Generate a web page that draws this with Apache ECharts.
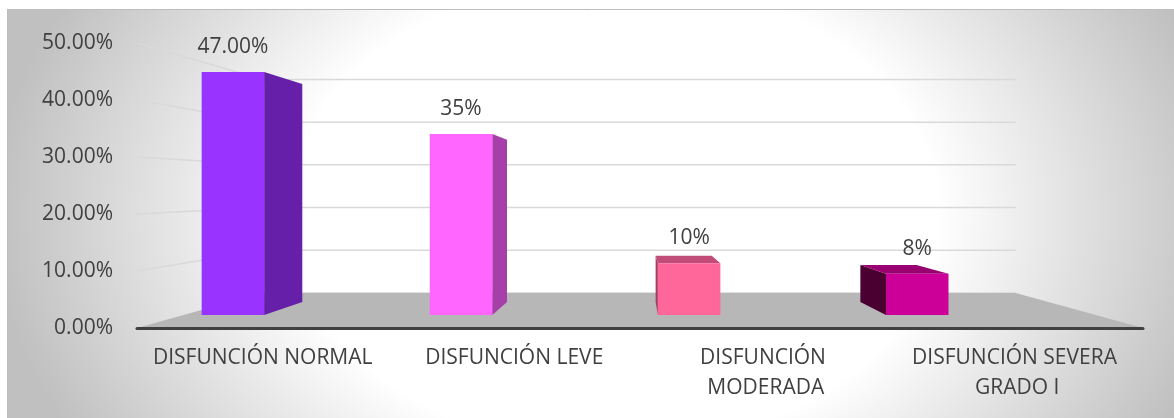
<!DOCTYPE html>
<html>
<head>
<meta charset="utf-8">
<script src="https://cdn.jsdelivr.net/npm/echarts@6/dist/echarts.min.js"></script>
<style>
  html, body { margin: 0; padding: 0; background: #ffffff; }
  #chart { width: 1174px; height: 418px; }
</style>
</head>
<body>
<div id="chart"></div>
<script>
// ---- data ----
const categories = ['DISFUNCIÓN NORMAL', 'DISFUNCIÓN LEVE', 'DISFUNCIÓN MODERADA', 'DISFUNCIÓN SEVERA GRADO I'];
const values = [47, 35, 10, 8];          // percent
const valueDecimals = [2, 0, 0, 0];      // decimals shown in each data label
const yTicks = [0, 10, 20, 30, 40, 50];  // percent

// ---- look ----
const faceColors = [
  { front: '#9933FF', side: '#651FA8', top: '#7A29CC' },
  { front: '#FF66FF', side: '#A640A8', top: '#CC52CC' },
  { front: '#FF6699', side: '#A33D63', top: '#C24C78' },
  { front: '#CC0099', side: '#4B0032', top: '#990070' }
];
const FONT = "'Open Sans', 'Noto Sans', sans-serif";
const TEXT_COLOR = '#404040';

// perspective: vanishing point as a fraction of the plot rectangle,
// depth as the scale factor relative to the front plane
const VP = { fx: 0.496, fy: 0.51 };
const DEPTH = { barFront: 0.907, barBack: 0.814, wall: 0.749 };
const BAR = { shift: -0.283, width: 0.274 }; // in category-band units

function vanishing(cs) {
  return [cs.x + cs.width * VP.fx, cs.y + cs.height * VP.fy];
}
function proj(p, s, vp) {
  return [vp[0] + (p[0] - vp[0]) * s, vp[1] + (p[1] - vp[1]) * s];
}

const chart = echarts.init(document.getElementById('chart'), null, { renderer: 'canvas' });

const option = {
  animation: false,
  backgroundColor: '#ffffff',
  graphic: [
    {
      type: 'rect',
      x: 7, y: 9,
      scaleX: 1.38, scaleY: 1,
      shape: { x: 0, y: 0, width: 1167 / 1.38, height: 409 },
      style: {
        fill: {
          type: 'radial', x: 0.52, y: 0.5, r: 1.1,
          colorStops: [
            { offset: 0, color: '#ffffff' },
            { offset: 0.52, color: '#ffffff' },
            { offset: 1, color: '#c0c0c0' }
          ]
        }
      },
      silent: true, z: -10
    },
    {
      type: 'rect',
      shape: { x: 7.5, y: 9.5, width: 1175, height: 420 },
      style: { fill: null, stroke: '#bdbdbd', lineWidth: 1 },
      silent: true, z: -9
    }
  ],
  grid: { left: 137, right: 31, top: 43, bottom: 90, containLabel: false },
  xAxis: {
    type: 'category',
    data: categories,
    z: 5,
    axisLine: { show: true, lineStyle: { color: '#404040', width: 3, cap: 'round' } },
    axisTick: { show: false },
    splitLine: { show: false },
    axisLabel: {
      color: TEXT_COLOR, fontFamily: FONT, fontSize: 21, lineHeight: 30,
      margin: 15, width: 235, overflow: 'break', interval: 0
    }
  },
  yAxis: {
    type: 'value',
    min: 0, max: 50, interval: 10,
    axisLine: { show: false },
    axisTick: { show: false },
    splitLine: { show: false },
    axisLabel: {
      color: TEXT_COLOR, fontFamily: FONT, fontSize: 21, margin: 24,
      formatter: v => v.toFixed(2) + '%'
    }
  },
  series: [
    {
      // side wall and back wall gridlines
      type: 'custom',
      z: 1,
      silent: true,
      data: yTicks.map(t => [0, t]),
      encode: { x: 0, y: 1 },
      renderItem(params, api) {
        const cs = params.coordSys;
        const vp = vanishing(cs);
        const y = api.coord([0, api.value(1)])[1];
        const fl = [cs.x, y], fr = [cs.x + cs.width, y];
        const bl = proj(fl, DEPTH.wall, vp), br = proj(fr, DEPTH.wall, vp);
        return {
          type: 'polyline',
          shape: { points: api.value(1) === 0 ? [bl, br] : [fl, bl, br] },
          style: { stroke: '#d9d9d9', lineWidth: 1.5, fill: null }
        };
      }
    },
    {
      // floor
      type: 'custom',
      z: 2,
      silent: true,
      data: [[0, 0]],
      encode: { x: 0, y: 1 },
      renderItem(params, api) {
        const cs = params.coordSys;
        const vp = vanishing(cs);
        const y = api.coord([0, 0])[1];
        const fl = [cs.x, y], fr = [cs.x + cs.width, y];
        return {
          type: 'polygon',
          shape: { points: [fl, fr, proj(fr, DEPTH.wall, vp), proj(fl, DEPTH.wall, vp)] },
          style: { fill: '#b7b7b7' }
        };
      }
    },
    {
      // 3D columns with data labels
      type: 'custom',
      z: 3,
      data: values.map((v, i) => [i, v]),
      encode: { x: 0, y: 1 },
      renderItem(params, api) {
        const cs = params.coordSys;
        const vp = vanishing(cs);
        const i = api.value(0), v = api.value(1);
        const band = api.size([1, 0])[0];
        const base = api.coord([i, 0]);
        const top = api.coord([i, v]);
        const cx = base[0] + BAR.shift * band;
        const hw = BAR.width * band / 2;
        const xl = cx - hw, xr = cx + hw, yt = top[1], yb = base[1];
        const f = p => proj(p, DEPTH.barFront, vp);
        const b = p => proj(p, DEPTH.barBack, vp);
        const c = faceColors[i % faceColors.length];
        const children = [];
        const frontTop = f([cx, yt]);

        const sx = frontTop[0] < vp[0] ? xr : xl;
        children.push({
          type: 'polygon',
          shape: { points: [f([sx, yt]), b([sx, yt]), b([sx, yb]), f([sx, yb])] },
          style: { fill: c.side }
        });
        if (frontTop[1] > vp[1]) {
          children.push({
            type: 'polygon',
            shape: { points: [f([xl, yt]), f([xr, yt]), b([xr, yt]), b([xl, yt])] },
            style: { fill: c.top }
          });
        }
        children.push({
          type: 'polygon',
          shape: { points: [f([xl, yt]), f([xr, yt]), f([xr, yb]), f([xl, yb])] },
          style: { fill: c.front }
        });
        children.push({
          type: 'text',
          x: frontTop[0], y: frontTop[1] - 25,
          style: {
            text: v.toFixed(valueDecimals[i]) + '%',
            fill: TEXT_COLOR, font: '21px ' + FONT,
            align: 'center', verticalAlign: 'middle'
          }
        });
        return { type: 'group', children };
      }
    }
  ]
};

chart.setOption(option);
</script>
</body>
</html>
